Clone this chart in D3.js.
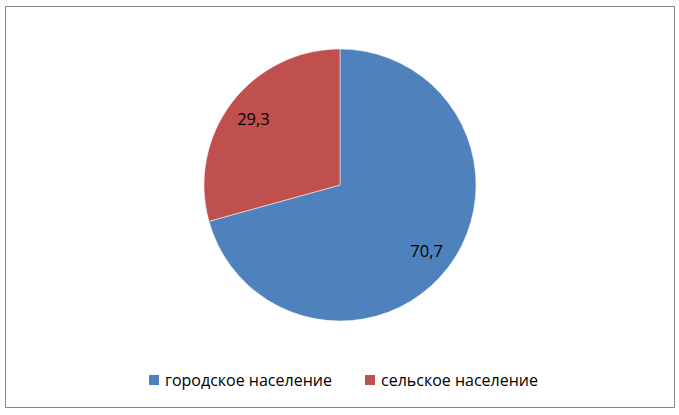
<!DOCTYPE html>
<html lang="ru">
  <head>
    <meta charset="UTF-8" />
    <title>Население</title>
    <script src="https://d3js.org/d3.v7.min.js"></script>
    <style>
      body {
        margin: 0;
        padding: 0;
        background-color: #ffffff;
        font-family: "Open Sans", Lato, sans-serif;
      }
    </style>
  </head>
  <body>
    <div id="chart"></div>
    <script>
      const categories = ["городское население", "сельское население"];
      const values = [70.7, 29.3];
      const labels = ["70,7", "29,3"];
      const colors = ["#4f81bd", "#c0504d"];

      const width = 679;
      const height = 415;
      const cx = 340;
      const cy = 185;
      const radius = 136;

      const svg = d3
        .select("#chart")
        .append("svg")
        .attr("width", width)
        .attr("height", height);

      // chart frame
      svg
        .append("rect")
        .attr("x", 5.5)
        .attr("y", 6.5)
        .attr("width", 669)
        .attr("height", 401)
        .attr("fill", "#fff")
        .attr("stroke", "#868686")
        .attr("stroke-width", 1);

      const color = d3.scaleOrdinal().domain(categories).range(colors);

      const pie = d3
        .pie()
        .sort(null)
        .value((d) => d.value);

      const data = categories.map((c, i) => ({
        name: c,
        value: values[i],
        label: labels[i],
      }));

      const arcs = pie(data);
      const arc = d3.arc().innerRadius(0).outerRadius(radius);
      const labelArc = d3
        .arc()
        .innerRadius(radius * 0.8)
        .outerRadius(radius * 0.8);

      const g = svg.append("g").attr("transform", `translate(${cx},${cy})`);

      g.selectAll("path")
        .data(arcs)
        .enter()
        .append("path")
        .attr("d", arc)
        .attr("fill", (d) => color(d.data.name))
        .attr("stroke", "#ffffff")
        .attr("stroke-width", 0.5);

      g.selectAll("text")
        .data(arcs)
        .enter()
        .append("text")
        .attr("transform", (d) => `translate(${labelArc.centroid(d)})`)
        .attr("text-anchor", "middle")
        .attr("dy", "0.35em")
        .attr("font-size", "16.5px")
        .attr("fill", "#000")
        .text((d) => d.data.label);

      // legend
      const legendX = [149, 365];
      const legend = svg
        .selectAll(".legend")
        .data(data)
        .enter()
        .append("g")
        .attr("class", "legend")
        .attr("transform", (d, i) => `translate(${legendX[i]},375)`);

      legend
        .append("rect")
        .attr("width", 10)
        .attr("height", 10)
        .attr("fill", (d) => color(d.name));

      legend
        .append("text")
        .attr("x", 16)
        .attr("y", 10.5)
        .attr("font-size", "16px")
        .attr("fill", "#000")
        .text((d) => d.name);
    </script>
  </body>
</html>
